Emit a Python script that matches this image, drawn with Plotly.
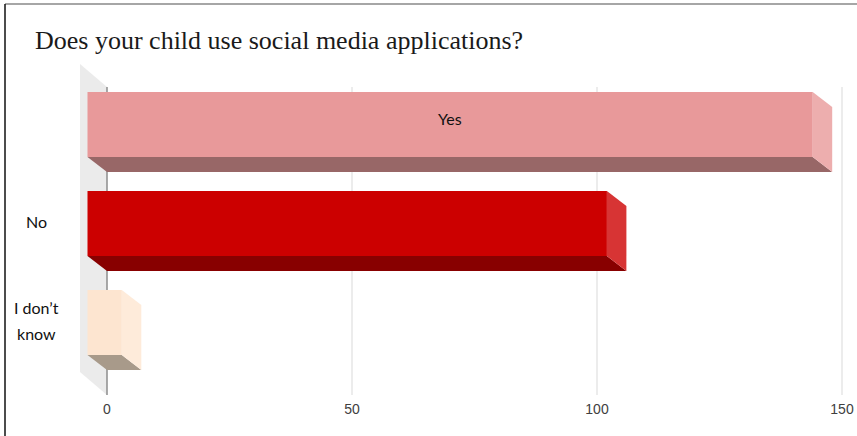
import plotly.graph_objects as go

# ---------------- data ----------------
categories = ["I don’t know", "No", "Yes"]
category_labels = ["I don’t<br>know", "No", "Yes"]
values = [7, 106, 148]
x_ticks = [0, 50, 100, 150]
x_tick_labels = ["0", "50", "100", "150"]
title_text = "Does your child use social media applications?"

# ---------------- styles ----------------
front_colors = ["#FDE5D0", "#CC0000", "#E8999A"]
side_colors = ["#FEEBDA", "#D73434", "#EDAEAE"]
bottom_colors = ["#A89A8A", "#880000", "#986767"]
label_inside = [False, False, True]

W, H = 857, 436
MT, MB = 50, 41
PX_PER_X = 4.9
ZERO_PX = 107
xmin = -ZERO_PX / PX_PER_X
xmax = (W - ZERO_PX) / PX_PER_X

PX_PER_Y = 99.0
CAT0_PX = 337.5
PLOT_BOTTOM_PX = H - MB
ymin = -(PLOT_BOTTOM_PX - CAT0_PX) / PX_PER_Y
ymax = (CAT0_PX - MT) / PX_PER_Y

# 3D depth (bar) in axis units
DX = 19.5 / PX_PER_X
DY = 15.0 / PX_PER_Y
HALF = 32.5 / PX_PER_Y
# wall depth
WDX = 27.0 / PX_PER_X
BACK_TOP = (CAT0_PX - 87) / PX_PER_Y
WALL_FRONT_TOP = (CAT0_PX - 64) / PX_PER_Y
WALL_FRONT_BOTTOM = (CAT0_PX - 372) / PX_PER_Y

fig = go.Figure()


def poly(xs, ys, color):
    fig.add_trace(go.Scatter(
        x=xs + [xs[0]], y=ys + [ys[0]], mode="lines", fill="toself",
        fillcolor=color, line=dict(width=0, color=color),
        hoverinfo="skip", showlegend=False))


# side wall
poly([-WDX, 0, 0, -WDX],
     [WALL_FRONT_TOP, BACK_TOP, ymin, WALL_FRONT_BOTTOM], "#EBEBEB")

# gridlines
for t in x_ticks:
    fig.add_trace(go.Scatter(
        x=[t, t], y=[BACK_TOP, ymin], mode="lines",
        line=dict(color="#8C8C8C" if t == 0 else "#D9D9D9", width=1.5 if t == 0 else 1),
        hoverinfo="skip", showlegend=False))

# bars
for i, v in enumerate(values):
    yb = i
    yf = i + DY
    # bottom face
    poly([-DX, v - DX, v, 0],
         [yf - HALF, yf - HALF, yb - HALF, yb - HALF], bottom_colors[i])
    # right face
    poly([v - DX, v, v, v - DX],
         [yf + HALF, yb + HALF, yb - HALF, yf - HALF], side_colors[i])
    # front face
    poly([-DX, v - DX, v - DX, -DX],
         [yf - HALF, yf - HALF, yf + HALF, yf + HALF], front_colors[i])

annotations = []
LINE_PX = 26
for i, lab in enumerate(category_labels):
    lines = lab.split("<br>")
    n = len(lines)
    for k, ln in enumerate(lines):
        ys = (n - 1) / 2 * LINE_PX - k * LINE_PX + 2
        if label_inside[i]:
            ax = dict(x=values[i] / 2 - DX, xref="x", yshift=ys + 4)
        else:
            ax = dict(x=36 / W, xref="paper", yshift=ys)
        annotations.append(dict(
            text=ln, y=i + DY, yref="y", showarrow=False,
            xanchor="center", yanchor="middle",
            font=dict(family="Lato, Open Sans, sans-serif", size=16, color="#111111"),
            **ax))

ph = H - MT - MB
def py(p):
    return (PLOT_BOTTOM_PX - p) / ph

shapes = [
    dict(type="line", xref="paper", yref="paper", x0=5 / W, x1=1, y0=py(4), y1=py(4),
         line=dict(color="#888888", width=1.5)),
    dict(type="line", xref="paper", yref="paper", x0=5 / W, x1=5 / W, y0=py(4), y1=py(H + 2),
         line=dict(color="#111111", width=1.5)),
]

fig.update_layout(
    width=W, height=H,
    margin=dict(l=0, r=0, t=MT, b=MB, pad=0),
    paper_bgcolor="white", plot_bgcolor="white",
    title=dict(text=title_text, x=35 / W, xanchor="left", y=1 - 40 / H, yanchor="middle",
               font=dict(family="Liberation Serif, Times New Roman, serif", size=26, color="#1a1a1a")),
    xaxis=dict(range=[xmin, xmax], tickvals=x_ticks, ticktext=x_tick_labels,
               showgrid=False, zeroline=False, showline=False, ticks="",
               ticklabelstandoff=4,
               tickfont=dict(family="Liberation Sans, Arial, sans-serif", size=14, color="#404040"),
               fixedrange=True),
    yaxis=dict(range=[ymin, ymax], visible=False, fixedrange=True),
    annotations=annotations,
    shapes=shapes,
    showlegend=False,
)

fig.write_html("out.html", config={"displayModeBar": False},
               post_script="document.body.style.margin='0';document.body.style.overflow='hidden';")
